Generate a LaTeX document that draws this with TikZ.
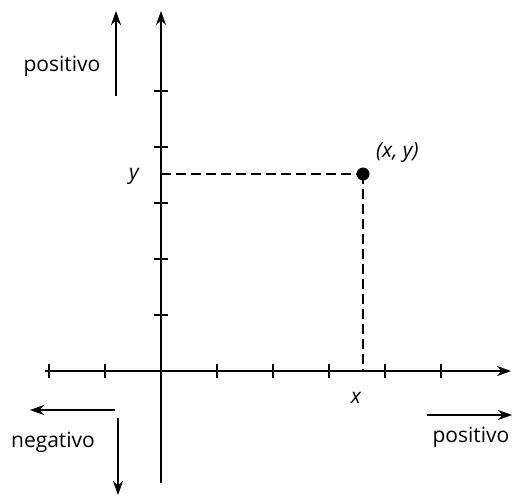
\documentclass[tikz,border=0pt]{standalone}
\usepackage{fontspec}
\setmainfont{Open Sans}
\usetikzlibrary{arrows.meta}
\begin{document}
\begin{tikzpicture}[x=1pt,y=-1pt,
  axis/.style={line width=1.8pt,-{Stealth[length=14pt,width=10pt]}},
  plain/.style={line width=1.8pt},
  tick/.style={line width=1.5pt},
  guide/.style={line width=1.6pt,dash pattern=on 10pt off 5pt},
  lab/.style={font=\fontsize{21}{25}\selectfont,inner sep=0pt},
  ilab/.style={font=\fontsize{21}{25}\selectfont\itshape,inner sep=0pt}]
\useasboundingbox (0,0) rectangle (513,497);
% axes
\coordinate (O) at (161,371);
\coordinate (xl) at (45,371);
\coordinate (xr) at (511,371);
\coordinate (yt) at (161,11);
\coordinate (yb) at (161,483);
\draw[axis] (xl) -- (xr);
\draw[plain] (yb) -- (O);
\draw[axis] (O) -- (yt);
% ticks
\foreach \t in {49,105,217,273,329,385,441}
  \draw[tick] (\t,364) -- (\t,378);
\foreach \t in {91,147,203,259,315}
  \draw[tick] (154,\t) -- (168,\t);
% point
\coordinate (P) at (363,174);
\coordinate (Px) at (363,371);
\coordinate (Py) at (161,174);
\draw[guide] (Py) -- (P);
\draw[guide] (P) -- (Px);
\node[circle,fill=black,minimum size=13pt,inner sep=0pt] (dot) at (P) {};
\node[ilab,anchor=west] (pl) at (376,153) {(x, y)};
\node[ilab] (ylab) at (134,176) {y};
\node[ilab] (xlab) at (356,398) {x};
% direction arrows
\node[lab] (pos1) at (62,66) {positivo};
\coordinate (a1s) at (116,96);
\coordinate (a1e) at (116,11);
\draw[axis] (a1s) -- (a1e);
\coordinate (a2s) at (115,410);
\coordinate (a2e) at (30,410);
\draw[axis] (a2s) -- (a2e);
\coordinate (a3s) at (118,418);
\coordinate (a3e) at (118,495);
\draw[axis] (a3s) -- (a3e);
\node[lab] (neg) at (53,442) {negativo};
\coordinate (a4s) at (427,415);
\coordinate (a4e) at (512,415);
\draw[axis] (a4s) -- (a4e);
\node[lab] (pos2) at (471,437) {positivo};
\end{tikzpicture}
\end{document}
